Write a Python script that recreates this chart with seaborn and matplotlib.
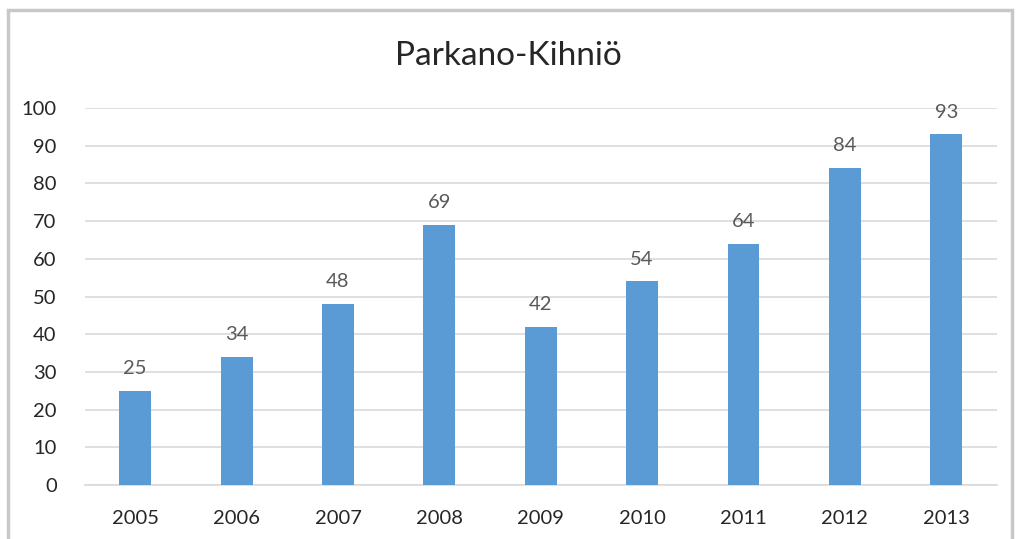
import matplotlib as mpl
mpl.use("Agg")
import matplotlib.pyplot as plt
import pandas as pd
import seaborn as sns

years = ["2005", "2006", "2007", "2008", "2009", "2010", "2011", "2012", "2013"]
values = [25, 34, 48, 69, 42, 54, 64, 84, 93]

sns.set_style("white")
plt.rcParams["font.family"] = ["Lato", "DejaVu Sans"]

df = pd.DataFrame({"year": years, "value": values})

fig = plt.figure(figsize=(10.17, 5.39), dpi=100)
ax = fig.add_axes([84.5 / 1017, 1 - 485 / 539, (997 - 84.5) / 1017, (485 - 108) / 539])

sns.barplot(data=df, x="year", y="value", color="#5B9BD5", saturation=1,
            width=0.315, linewidth=0, ax=ax, zorder=3)

ax.set_ylim(0, 100)
ax.set_yticks(range(0, 101, 10))
ax.yaxis.grid(True, color="#D9D9D9", linewidth=1.2, zorder=0)
ax.set_axisbelow(True)
for s in ["top", "right", "left"]:
    ax.spines[s].set_visible(False)
ax.spines["bottom"].set_color("#D9D9D9")
ax.spines["bottom"].set_linewidth(1.2)
ax.tick_params(axis="both", length=0, labelsize=14.5, colors="#262626")
ax.tick_params(axis="x", pad=18)
ax.tick_params(axis="y", pad=20)
ax.set_xlabel("")
ax.set_ylabel("")

for c in ax.containers:
    ax.bar_label(c, padding=10, fontsize=14.5, color="#595959")

fig.text(0.5, 1 - 56 / 539, "Parkano-Kihniö", ha="center", va="center",
         fontsize=24, color="#262626")

# outer chart frame
frame = plt.Rectangle((8 / 1017, -0.05), (1012 - 8) / 1017, 1.05 - 10 / 539,
                      transform=fig.transFigure, fill=False,
                      edgecolor="#C8C8C8", linewidth=2.5)
fig.add_artist(frame)

fig.savefig("out.png", dpi=100)
